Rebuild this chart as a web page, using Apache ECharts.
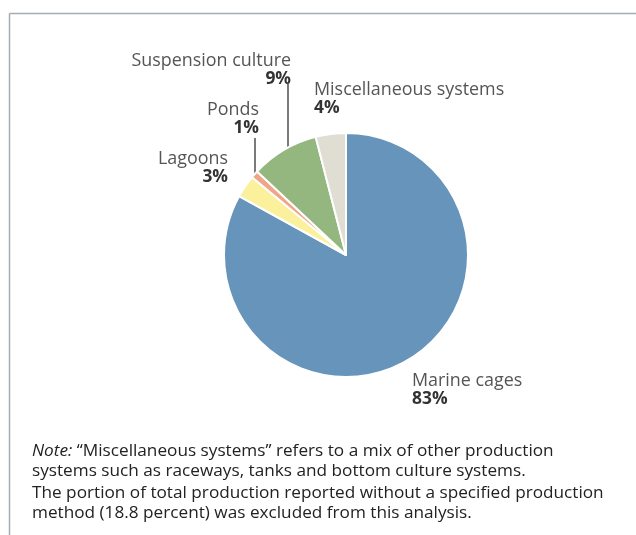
<!DOCTYPE html>
<html><head><meta charset="utf-8">
<script src="https://cdn.jsdelivr.net/npm/echarts@6/dist/echarts.min.js"></script>
<style>html,body{margin:0;padding:0;background:#fff}#c{width:636px;height:535px}</style>
</head><body><div id="c"></div>
<script>
const categories = ['Marine cages', 'Lagoons', 'Ponds', 'Suspension culture', 'Miscellaneous systems'];
const values = [83, 3, 1, 9, 4];
const colors = ['#6694bb', '#fbf09b', '#f2a488', '#94b780', '#e0ded2'];
const noteLines1 = ['{i|Note:} “Miscellaneous systems” refers to a mix of other production', 'systems such as raceways, tanks and bottom culture systems.'];
const noteLines2 = ['The portion of total production reported without a specified production', 'method (18.8 percent) was excluded from this analysis.'];

// label anchor layout (x, y, align) per slice
const labelPos = [
  {x: 412, y: 390, align: 'left'},
  {x: 228, y: 168, align: 'right'},
  {x: 259, y: 119, align: 'right'},
  {x: 291, y: 70, align: 'right'},
  {x: 314, y: 99, align: 'left'}
];
const leaderLines = {
  2: [[255, 138], [255, 158], [255, 177]],
  3: [[288, 84], [288, 120], [288, 167]]
};

const FONT = '"Open Sans", sans-serif';
const data = categories.map((n, i) => ({
  name: n, value: values[i],
  itemStyle: {color: colors[i]},
  label: {align: labelPos[i].align, rich: {
    n: {fontSize: 17.9, color: '#555', fontFamily: FONT, lineHeight: 19, align: labelPos[i].align},
    p: {fontSize: 17.4, color: '#333', fontWeight: 'bold', fontFamily: FONT, lineHeight: 19, align: labelPos[i].align}
  }},
  labelLine: {show: !!leaderLines[i]}
}));

const chart = echarts.init(document.getElementById('c'), null, {renderer: 'canvas'});
chart.setOption({
  animation: false,
  graphic: [
    {type: 'line', shape: {x1: 9.5, y1: 13.5, x2: 636, y2: 13.5}, style: {stroke: '#a3acb3', lineWidth: 1.5}},
    {type: 'line', shape: {x1: 9.5, y1: 13.5, x2: 9.5, y2: 535}, style: {stroke: '#a3acb3', lineWidth: 1.5}},
    {type: 'text', left: 32, top: 441, style: {text: noteLines1.join('\n'), fontSize: 17.2, fontFamily: FONT, fill: '#222', lineHeight: 20,
      rich: {i: {fontStyle: 'italic', fontSize: 17.2, fontFamily: FONT, fill: '#222'}}}},
    {type: 'text', left: 32, top: 483, style: {text: noteLines2.join('\n'), fontSize: 17.2, fontFamily: FONT, fill: '#222', lineHeight: 20}}
  ],
  series: [{
    type: 'pie',
    center: [346, 255],
    radius: [0, 122],
    startAngle: 90,
    clockwise: true,
    itemStyle: {borderColor: '#fff', borderWidth: 2},
    label: {show: true, formatter: '{n|{b}}\n{p|{c}%}', position: 'outside'},
    labelLine: {lineStyle: {color: '#222', width: 1.2}, length: 10, length2: 10},
    labelLayout: function (p) {
      const lp = labelPos[p.dataIndex];
      const o = {x: lp.x, y: lp.y, align: lp.align, verticalAlign: 'middle', moveOverlap: false};
      if (leaderLines[p.dataIndex]) o.labelLinePoints = leaderLines[p.dataIndex];
      return o;
    },
    emphasis: {disabled: true},
    data: data
  }]
});
</script></body></html>
